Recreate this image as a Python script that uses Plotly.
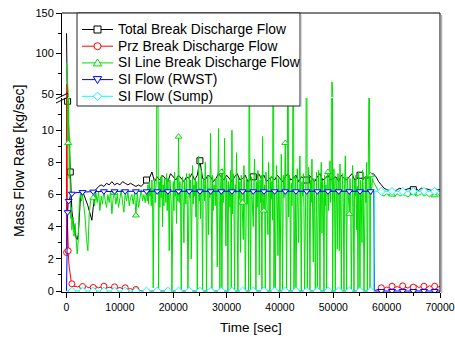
import plotly.graph_objects as go

# ---------------- data ----------------
t_early = [0, 50, 100, 150, 200, 300, 400, 500, 600, 700, 800, 900, 1000, 1200, 1400,
           1600, 1800, 2000, 2200, 2400, 2600, 2800, 3000, 3250, 3500, 3750, 4000, 4250, 4500, 4750]

# Total Break Discharge Flow
black_early = [125, 70, 30, 14, 11.8, 11.0, 10.0, 9.0, 8.0, 7.4, 6.6, 5.8, 5.0, 4.4, 4.0,
               3.6, 3.3, 3.2, 3.5, 4.6, 5.8, 6.1, 6.1, 6.0, 5.8, 5.6, 5.3, 5.0, 4.6, 4.4]
black_main = [  # 5000 .. 70000 every 500 s
    5.2, 6.3, 6.5, 6.6, 6.5, 6.7, 6.6, 6.8, 6.6, 6.7,
    6.6, 6.8, 6.7, 6.6, 6.7, 6.6, 6.5, 6.6, 6.5, 6.7,
    6.9, 7.0, 7.4, 6.8, 7.1, 6.9, 7.2, 7.0, 6.8, 7.3,
    7.1, 6.9, 7.2, 7.0, 6.8, 7.1, 7.0, 7.3, 6.9, 7.2,
    8.1, 7.0, 6.9, 7.2, 7.1, 6.8, 7.0, 7.3, 7.1, 6.9,
    7.2, 7.0, 6.8, 7.1, 7.3, 6.9, 7.0, 7.2, 6.8, 7.0,
    7.1, 6.9, 7.3, 7.0, 7.2, 6.8, 7.0, 7.1, 6.9, 7.2,
    7.0, 6.8, 7.1, 7.3, 6.9, 7.0, 7.2, 6.8, 7.1, 7.0,
    6.9, 7.2, 7.0, 6.8, 7.1, 7.3, 6.9, 7.0, 7.2, 6.9,
    7.0, 7.1, 6.8, 7.2, 7.0, 6.9, 7.1, 7.3, 6.9, 7.0,
    7.2, 6.9, 7.1, 7.0, 7.2, 7.3, 7.1, 6.8, 6.6, 6.4,
    6.3, 6.25, 6.35, 6.2, 6.3, 6.4, 6.25, 6.3, 6.35, 6.4,
    6.3, 6.35, 6.25, 6.4, 6.3, 6.35, 6.3, 6.25, 6.35, 6.3,
    6.3]

# Prz Break Discharge Flow
red_early = [2.4, 62, 12, 4.5, 3.7, 2.5, 1.9, 1.5, 1.2, 0.9, 0.7, 0.55, 0.45, 0.35, 0.3,
             0.28, 0.3, 0.25, 0.27, 0.3, 0.22, 0.25, 0.28, 0.2, 0.24, 0.3, 0.22, 0.2, 0.25, 0.22]
red_mid = [0.22, 0.28, 0.2, 0.25, 0.3, 0.18, 0.24, 0.2, 0.26, 0.17,      # 5000 .. 14500 every 500 s
           0.22, 0.15, 0.2, 0.12, 0.15, 0.08, 0.1, 0.05, 0.03, 0.0]
red_gap = [0.0]                                                          # 57500 s
red_late = [0.05, 0.12, 0.2, 0.15, 0.25, 0.18, 0.3, 0.22, 0.28, 0.2,     # 58000 .. 70000 every 500 s
            0.32, 0.25, 0.18, 0.3, 0.24, 0.35, 0.22, 0.28, 0.3, 0.2,
            0.33, 0.26, 0.3, 0.24, 0.28]

# SI Line Break Discharge Flow
green_early = [88, 35, 14, 12.5, 10.5, 9.2, 12.0, 7.0, 9.5, 5.8, 4.5, 5.2, 3.8, 4.6, 3.4,
               4.2, 2.9, 2.3, 3.2, 5.5, 6.1, 5.6, 6.0, 5.2, 4.5, 3.2, 2.5, 4.8, 5.6, 5.8]
green_band = [  # 5000 .. 14750 every 250 s
    5.8, 5.3, 6.1, 5.5, 6.2, 5.0, 5.9, 5.4, 6.3, 5.6,
    5.2, 6.0, 5.5, 6.2, 4.8, 5.8, 6.1, 5.4, 6.0, 5.2,
    5.9, 6.3, 5.5, 4.9, 6.1, 5.6, 6.2, 5.3, 5.8, 6.0,
    5.4, 6.2, 4.7, 6.1, 5.2, 5.9, 6.3, 5.6, 6.0, 5.5]
green_osc = [  # 15000 .. 57500 every 125 s
    6.2, 5.6, 6.6, 5.4, 6.8, 5.9, 6.4, 5.3, 6.9, 5.7, 0.2, 6.3, 7.0, 5.5, 6.6, 7.2,
    30.0, 6.0, 0.0, 6.8, 5.2, 7.1, 5.8, 7.2, 4.0, 6.6, 5.3, 7.0, 6.4, 5.5, 7.3, 5.0,
    7.0, 5.6, 2.5, 6.9, 6.2, 5.4, 0.0, 6.7, 6.8, 5.0, 7.4, 5.9, 6.3, 4.2, 7.1, 5.6,
    9.6, 5.5, 6.8, 5.8, 0.0, 6.6, 7.1, 5.2, 3.0, 6.9, 6.0, 5.4, 7.3, 5.7, 0.0, 6.5,
    7.3, 5.8, 6.9, 2.0, 6.4, 7.8, 5.4, 6.6, 5.9, 7.0, 4.6, 6.8, 0.0, 6.2, 8.4, 5.6,
    6.2, 4.5, 7.5, 5.8, 0.0, 6.9, 6.8, 5.6, 8.0, 5.0, 0.0, 6.7, 7.2, 3.5, 6.4, 5.8,
    9.8, 5.9, 0.0, 7.2, 5.0, 6.6, 6.5, 5.3, 7.0, 5.8, 1.5, 6.9, 10.1, 5.2, 0.0, 6.4,
    7.4, 0.0, 7.6, 5.5, 6.0, 9.5, 5.6, 2.8, 7.0, 6.2, 0.0, 6.8, 6.4, 5.2, 7.5, 0.0,
    10.0, 4.8, 7.3, 5.9, 0.0, 6.6, 6.1, 8.6, 5.4, 0.0, 7.0, 5.7, 6.8, 2.4, 7.2, 5.9,
    5.5, 3.2, 7.8, 6.1, 0.0, 6.6, 7.0, 5.4, 6.8, 0.0, 20.0, 5.8, 0.0, 7.1, 6.0, 5.2,
    4.0, 6.9, 8.2, 5.6, 0.0, 6.8, 5.2, 7.5, 6.1, 1.0, 6.9, 5.5, 7.2, 0.0, 9.6, 5.8,
    5.0, 6.6, 0.0, 7.4, 6.2, 5.4, 3.5, 8.0, 6.3, 0.0, 7.1, 5.7, 6.8, 4.4, 25.0, 0.0,
    6.2, 0.0, 6.5, 7.8, 5.6, 2.2, 7.0, 6.1, 0.0, 6.8, 8.5, 5.4, 0.0, 7.2, 5.8, 6.6,
    9.2, 5.5, 0.0, 6.9, 18.0, 4.6, 7.2, 5.9, 0.0, 6.7, 5.3, 7.4, 22.0, 0.0, 6.0, 7.1,
    0.0, 6.8, 7.6, 5.2, 3.0, 7.0, 8.4, 5.6, 0.0, 6.8, 5.9, 7.3, 5.2, 0.0, 6.6, 7.5,
    24.0, 0.0, 6.1, 7.7, 5.4, 0.0, 6.9, 5.5, 8.2, 6.0, 1.8, 7.0, 5.6, 0.0, 6.7, 7.4,
    0.0, 6.4, 7.5, 5.5, 0.0, 6.8, 8.0, 3.6, 6.9, 5.8, 0.0, 7.2, 5.3, 6.6, 0.0, 7.0,
    7.4, 5.0, 6.6, 8.1, 5.5, 6.9, 65.0, 0.0, 6.2, 7.6, 5.4, 0.0, 7.0, 6.1, 2.6, 7.3,
    6.8, 2.5, 7.9, 5.7, 0.0, 6.0, 7.3, 5.5, 0.0, 6.7, 8.4, 5.8, 0.0, 7.1, 6.3, 4.9,
    4.8, 7.0, 5.9, 0.0, 6.6, 7.8, 5.2, 0.0, 6.9, 5.9, 7.2, 3.8, 6.5, 0.0, 7.4, 5.6,
    0.0, 6.9, 5.8, 3.0, 7.5, 6.2, 0.0, 6.4, 7.1, 5.5, 8.0, 0.0, 6.6, 5.9, 16.0, 0.0,
    7.2, 6.0, 6.8, 7.0, 6.8]
green_late = [6.5, 6.2, 6.0, 5.9, 6.05, 5.95, 6.0, 5.85, 6.05, 5.9,   # 58000 .. 70000 every 500 s
              6.0, 5.95, 5.85, 6.0, 6.1, 5.9, 5.95, 6.05, 5.9, 6.0,
              5.85, 6.0, 5.95, 6.05, 5.9]

# SI Flow (RWST)
blue_t = [0, 50, 100, 200, 300, 400, 600, 800, 1000, 1500, 2000] + list(range(3000, 57001, 2000)) \
         + [57600, 57700] + list(range(59000, 69001, 2000)) + [70000]
blue_v = [0.0, 2.0, 3.5, 4.9, 5.4, 5.6, 5.8, 5.95, 6.05, 6.1, 6.12,
          6.15, 6.18, 6.2, 6.2, 6.2, 6.2, 6.2, 6.2, 6.2, 6.2, 6.2, 6.2, 6.2, 6.2, 6.2, 6.2,
          6.2, 6.2, 6.2, 6.2, 6.2, 6.2, 6.2, 6.2, 6.2, 6.2, 6.2, 6.2,
          6.2, 0.0,
          0.0, 0.0, 0.0, 0.0, 0.0, 0.0,
          0.0]

# SI Flow (Sump)
cyan_t = [0] + list(range(1000, 57001, 2000)) + [57600, 57700] + list(range(59000, 69001, 2000)) + [70000]
cyan_v = [0.0,
          0.0, 0.0, 0.0, 0.0, 0.0, 0.0, 0.0, 0.0, 0.0, 0.0, 0.0, 0.0, 0.0, 0.0, 0.0,
          0.0, 0.0, 0.0, 0.0, 0.0, 0.0, 0.0, 0.0, 0.0, 0.0, 0.0, 0.0, 0.0, 0.0,
          0.0, 6.2,
          6.2, 6.2, 6.2, 6.2, 6.2, 6.2,
          6.2]

x_ticks = [0, 10000, 20000, 30000, 40000, 50000, 60000, 70000]
x_tick_labels = ["0", "10000", "20000", "30000", "40000", "50000", "60000", "70000"]
x_minor = [5000, 15000, 25000, 35000, 45000, 55000, 65000]
y_low_ticks = [0, 2, 4, 6, 8, 10]
y_low_labels = ["0", "2", "4", "6", "8", "10"]
y_low_minor = [1, 3, 5, 7, 9, 11]
y_high_ticks = [50, 100, 150]
y_high_labels = ["50", "100", "150"]
y_high_minor = [75, 125]

# ---------------- assemble series ----------------
t_black = t_early + list(range(5000, 70001, 500))
v_black = black_early + black_main
t_red = t_early + list(range(5000, 14501, 500)) + [57500] + list(range(58000, 70001, 500))
v_red = red_early + red_mid + red_gap + red_late
t_green = t_early + list(range(5000, 14751, 250)) + list(range(15000, 57501, 125)) \
          + list(range(58000, 70001, 500))
v_green = green_early + green_band + green_osc + green_late
assert len(t_black) == len(v_black)
assert len(t_red) == len(v_red)
assert len(t_green) == len(v_green), (len(t_green), len(v_green))
assert len(blue_t) == len(blue_v)
assert len(cyan_t) == len(cyan_v)

FONT = "Arial, Liberation Sans, Helvetica, sans-serif"

series = [
    ("Total Break Discharge Flow", t_black, v_black, "#000000", "square",
     lambda t: t in (200, 700) or (t >= 15000 and t % 10000 == 5000), True),
    ("Prz Break Discharge Flow", t_red, v_red, "#FF0000", "circle",
     lambda t: t in (0, 300) or t % 2000 == 1000, True),
    ("SI Line Break Discharge Flow", t_green, v_green, "#00DD00", "triangle-up",
     lambda t: t == 300 or (t >= 5000 and t % 4000 == 1000), True),
    ("SI Flow (RWST)", blue_t, blue_v, "#0000FF", "triangle-down",
     lambda t: t in (200, 400) or t % 2000 == 1000, False),
    ("SI Flow (Sump)", cyan_t, cyan_v, "#00FFFF", "diamond",
     lambda t: t % 2000 == 1000, False),
]

fig = go.Figure()
for name, tt, vv, col, sym, mask, upper in series:
    fig.add_trace(go.Scatter(x=tt, y=vv, mode="lines", line=dict(color=col, width=1), name=name,
                             showlegend=False, hoverinfo="skip", xaxis="x", yaxis="y"))
    if upper:
        fig.add_trace(go.Scatter(x=tt, y=vv, mode="lines", line=dict(color=col, width=1), name=name,
                                 showlegend=False, hoverinfo="skip", xaxis="x", yaxis="y2"))
    mx = [t for t, v in zip(tt, vv) if mask(t)]
    my = [v for t, v in zip(tt, vv) if mask(t)]
    fig.add_trace(go.Scatter(x=mx, y=my, mode="markers", name=name,
                             marker=dict(symbol=sym, size=6, color="white",
                                         line=dict(color=col, width=1)),
                             showlegend=False, hoverinfo="skip", xaxis="x", yaxis="y"))

L, R, T, B = 62, 15, 13, 45
W, H = 455, 337
PW, PH = W - L - R, H - T - B


def px(xp):
    return (xp - L) / PW


def py(yp):
    return (H - B - yp) / PH


axis_common = dict(showline=True, linecolor="black", linewidth=1, showgrid=False, zeroline=False,
                   ticks="outside", ticklen=5, tickwidth=1, tickcolor="black", automargin=False)

fig.update_layout(
    width=W, height=H,
    margin=dict(l=L, r=R, t=T, b=B, pad=0, autoexpand=False),
    paper_bgcolor="white", plot_bgcolor="white",
    font=dict(family=FONT, color="black"),
    showlegend=False,
    xaxis=dict(domain=[0, 1], range=[-850, 70000], anchor="y", tickmode="array", tickvals=x_ticks,
               ticktext=x_tick_labels, ticklabeloverflow="allow",
               tickfont=dict(family=FONT, size=10.5, color="black"),
               minor=dict(tickmode="array", tickvals=x_minor, ticks="outside", ticklen=3, tickcolor="black"),
               **axis_common),
    yaxis=dict(domain=[0, py(98)], range=[-0.06, 12.0], anchor="x", tickmode="array",
               tickvals=y_low_ticks, ticktext=y_low_labels,
               tickfont=dict(family=FONT, size=11, color="black"),
               minor=dict(tickmode="array", tickvals=y_low_minor, ticks="outside", ticklen=3, tickcolor="black"),
               **axis_common),
    yaxis2=dict(domain=[py(97), 1], range=[46.3, 150], anchor="x", tickmode="array",
                tickvals=y_high_ticks, ticktext=y_high_labels,
                tickfont=dict(family=FONT, size=11, color="black"),
                minor=dict(tickmode="array", tickvals=y_high_minor, ticks="outside", ticklen=3, tickcolor="black"),
                **axis_common),
)

shapes = [
    dict(type="line", xref="paper", yref="paper", x0=0, x1=1, y0=1, y1=1, line=dict(color="black", width=1)),
    dict(type="line", xref="paper", yref="paper", x0=1, x1=1, y0=0, y1=1, line=dict(color="black", width=1)),
    dict(type="line", xref="paper", yref="paper", x0=px(441.5), x1=px(441.5), y0=py(293), y1=py(15),
         line=dict(color="#B0B0B0", width=1.5)),
    dict(type="line", xref="paper", yref="paper", x0=px(56), x1=px(68), y0=py(99), y1=py(93),
         line=dict(color="black", width=1)),
    dict(type="line", xref="paper", yref="paper", x0=px(56), x1=px(68), y0=py(103), y1=py(97),
         line=dict(color="black", width=1)),
    # legend box (drawn by hand so its compact row spacing matches the reference)
    dict(type="rect", xref="paper", yref="paper", x0=px(77), x1=px(300), y0=py(106), y1=py(13),
         fillcolor="white", line=dict(color="#222222", width=1), layer="above"),
    dict(type="line", xref="paper", yref="paper", x0=px(301), x1=px(301), y0=py(107), y1=py(15),
         line=dict(color="#B0B0B0", width=1), layer="above"),
]

row_y = [29.5, 46.2, 62.9, 79.6, 96.3]
mx0, mx1, mc = 82, 113, 97.5
hs = 3.5
for (name, tt, vv, col, sym, mask, upper), ry in zip(series, row_y):
    shapes.append(dict(type="line", xref="paper", yref="paper", x0=px(mx0), x1=px(mx1),
                       y0=py(ry), y1=py(ry), line=dict(color=col, width=1), layer="above"))
    style = dict(xref="paper", yref="paper", fillcolor="white", line=dict(color=col, width=1), layer="above")
    if sym == "square":
        shapes.append(dict(type="rect", x0=px(mc - hs), x1=px(mc + hs), y0=py(ry + hs), y1=py(ry - hs), **style))
    elif sym == "circle":
        shapes.append(dict(type="circle", x0=px(mc - hs), x1=px(mc + hs), y0=py(ry + hs), y1=py(ry - hs), **style))
    elif sym == "triangle-up":
        path = "M {:.5f},{:.5f} L {:.5f},{:.5f} L {:.5f},{:.5f} Z".format(
            px(mc), py(ry - 4), px(mc - 4.2), py(ry + 3), px(mc + 4.2), py(ry + 3))
        shapes.append(dict(type="path", path=path, **style))
    elif sym == "triangle-down":
        path = "M {:.5f},{:.5f} L {:.5f},{:.5f} L {:.5f},{:.5f} Z".format(
            px(mc), py(ry + 4), px(mc - 4.2), py(ry - 3), px(mc + 4.2), py(ry - 3))
        shapes.append(dict(type="path", path=path, **style))
    else:
        path = "M {:.5f},{:.5f} L {:.5f},{:.5f} L {:.5f},{:.5f} L {:.5f},{:.5f} Z".format(
            px(mc), py(ry - 4.2), px(mc + 4.2), py(ry), px(mc), py(ry + 4.2), px(mc - 4.2), py(ry))
        shapes.append(dict(type="path", path=path, **style))
    fig.add_annotation(text=name, xref="paper", yref="paper", x=px(116), y=py(ry),
                       showarrow=False, xanchor="left", yanchor="middle",
                       font=dict(family=FONT, size=13.8, color="black"))

fig.update_layout(shapes=shapes)

fig.add_annotation(text="Time [sec]", xref="paper", yref="paper", x=px(251), y=py(328),
                   showarrow=False, xanchor="center", yanchor="middle",
                   font=dict(family=FONT, size=13.5, color="black"))
fig.add_annotation(text="Mass Flow Rate [kg/sec]", xref="paper", yref="paper", x=px(19), y=py(161),
                   showarrow=False, xanchor="center", yanchor="middle", textangle=-90,
                   font=dict(family=FONT, size=14, color="black"))

fig.write_html("out.html", config={"displayModeBar": False},
               post_script="document.body.style.margin='0px';")
